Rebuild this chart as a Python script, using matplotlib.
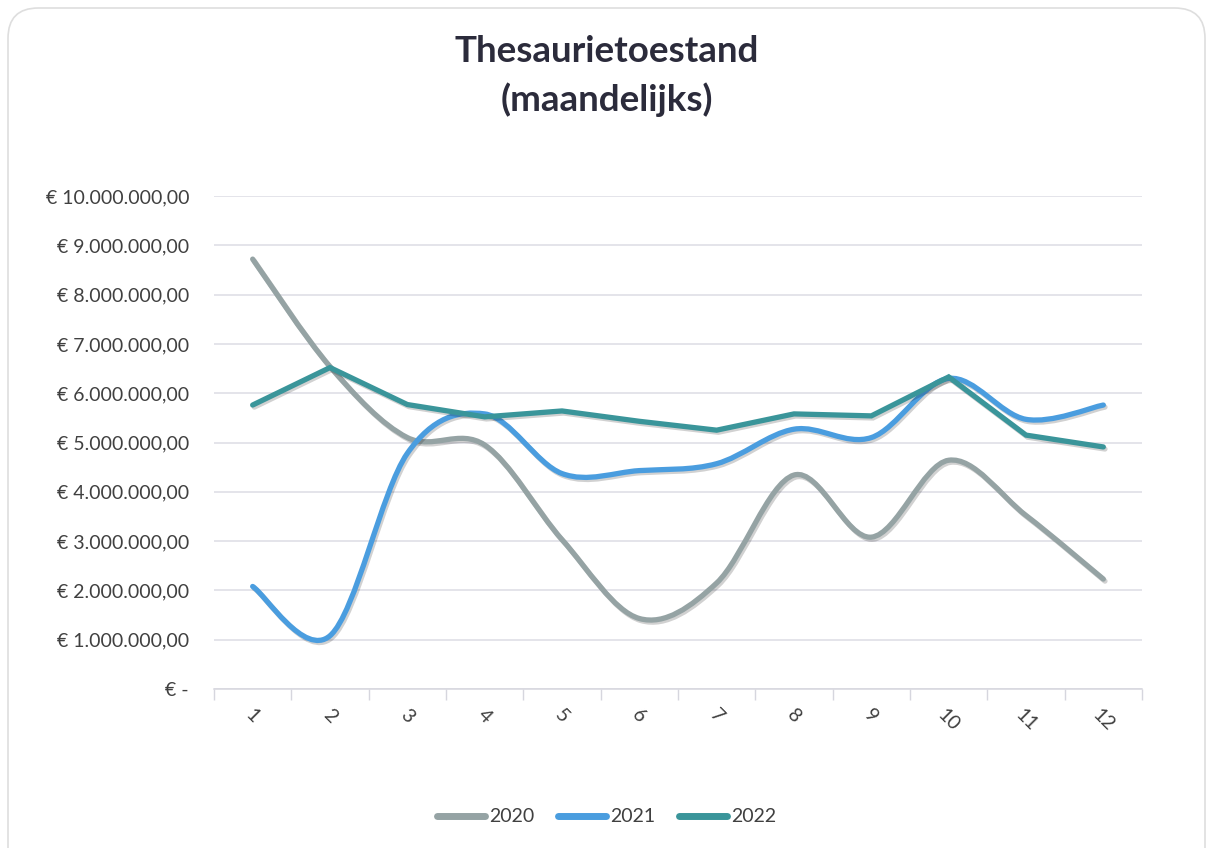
import matplotlib
matplotlib.use("Agg")
import matplotlib.pyplot as plt
import matplotlib.patheffects as pe
from matplotlib.patches import FancyBboxPatch, PathPatch
from matplotlib.path import Path
from matplotlib.lines import Line2D
from matplotlib.ticker import FuncFormatter, FixedLocator
import numpy as np


# =====================================================
# Data
# =====================================================

months = list(range(1, 13))
month_labels = [str(m) for m in months]

cash_2020 = [8.72e6, 6.54e6, 5.10e6, 4.95e6, 3.03e6, 1.43e6,
             2.15e6, 4.34e6, 3.08e6, 4.64e6, 3.52e6, 2.23e6]
cash_2021 = [2.08e6, 1.08e6, 4.78e6, 5.58e6, 4.37e6, 4.43e6,
             4.57e6, 5.27e6, 5.10e6, 6.30e6, 5.47e6, 5.76e6]
cash_2022 = [5.76e6, 6.52e6, 5.77e6, 5.52e6, 5.64e6, 5.43e6,
             5.25e6, 5.58e6, 5.54e6, 6.33e6, 5.15e6, 4.91e6]

series_names = ["2020", "2021", "2022"]
colors = ["#95a3a4", "#4a9ddf", "#3a959a"]
smooth = [True, True, False]

y_ticks = [i * 1e6 for i in range(0, 11)]


def euro(v, pos=None):
    if v == 0:
        return "€ -"
    s = f"{v:,.2f}"
    s = s.replace(",", "X").replace(".", ",").replace("X", ".")
    return "€ " + s


def smooth_path(xs, ys):
    # Excel-like smoothed line: Catmull-Rom as cubic Bezier segments
    pts = np.column_stack([xs, ys]).astype(float)
    padded = np.vstack([pts[0], pts, pts[-1]])
    verts = [pts[0]]
    codes = [Path.MOVETO]
    for i in range(len(pts) - 1):
        p0, p1, p2, p3 = padded[i], padded[i + 1], padded[i + 2], padded[i + 3]
        c1 = p1 + (p2 - p0) / 6.0
        c2 = p2 - (p3 - p1) / 6.0
        verts += [c1, c2, p2]
        codes += [Path.CURVE4] * 3
    return Path(verts, codes)


# =====================================================
# Figure
# =====================================================

plt.rcParams["font.family"] = ["Lato", "DejaVu Sans"]

fig = plt.figure(figsize=(12.13, 8.48), dpi=100)
fig.patch.set_facecolor("white")

card = FancyBboxPatch(
    (8 / 1213, -0.05), 1197 / 1213, 1.05 - 8 / 848,
    boxstyle="round,pad=0,rounding_size=0.025",
    transform=fig.transFigure,
    facecolor="white", edgecolor="#dedede", linewidth=1.2,
    mutation_aspect=1213 / 848, zorder=-10,
)
fig.patches.append(card)

ax = fig.add_axes([214 / 1213, 1 - 689 / 848, 928 / 1213, 493 / 848])
ax.set_facecolor("none")

shadow = [pe.SimpleLineShadow(offset=(1.2, -1.5), alpha=0.18, shadow_color="black"),
          pe.Normal()]

for name, vals, col, sm in zip(series_names, [cash_2020, cash_2021, cash_2022],
                               colors, smooth):
    if sm:
        patch = PathPatch(smooth_path(months, vals), facecolor="none",
                          edgecolor=col, linewidth=3.8, capstyle="round",
                          joinstyle="round", zorder=3)
        patch.set_path_effects(shadow)
        ax.add_patch(patch)
    else:
        ax.plot(months, vals, color=col, linewidth=3.8,
                solid_capstyle="round", solid_joinstyle="miter", zorder=3,
                path_effects=shadow)

ax.set_xlim(0.5, 12.5)
ax.set_ylim(0, 10e6)

ax.yaxis.set_major_locator(FixedLocator(y_ticks))
ax.yaxis.set_major_formatter(FuncFormatter(euro))
ax.grid(axis="y", color="#dcdce4", linewidth=1.1, zorder=0)
ax.set_axisbelow(True)

ax.set_xticks(months)
ax.set_xticklabels(month_labels, rotation=-45, ha="center", va="top",
                   fontsize=14, color="#404040")
ax.set_xticks([m + 0.5 for m in [0] + months], minor=True)
ax.tick_params(axis="x", which="major", length=0, pad=12)
ax.tick_params(axis="x", which="minor", length=8, color="#d6d6de", width=1)
ax.tick_params(axis="y", length=0, pad=18, labelsize=14, labelcolor="#404040")

for s in ["top", "right", "left"]:
    ax.spines[s].set_visible(False)
ax.spines["bottom"].set_color("#d6d6de")
ax.spines["bottom"].set_linewidth(1.1)

fig.text(0.5, 1 - 52 / 848, "Thesaurietoestand", ha="center", va="center",
         fontsize=26.5, fontweight="bold", color="#2b2b3b")
fig.text(0.5, 1 - 100 / 848, "(maandelijks)", ha="center", va="center",
         fontsize=26.5, fontweight="bold", color="#2b2b3b")

handles = [Line2D([0], [0], color=c, linewidth=5, solid_capstyle="round")
           for c in colors]
fig.legend(handles, series_names, loc="center", ncol=3, frameon=False,
           bbox_to_anchor=(0.5, 1 - 817 / 848), fontsize=14,
           handlelength=2.5, handletextpad=0.2, columnspacing=1.2,
           labelcolor="#404040")

fig.savefig("out.png", dpi=100)
plt.close(fig)
